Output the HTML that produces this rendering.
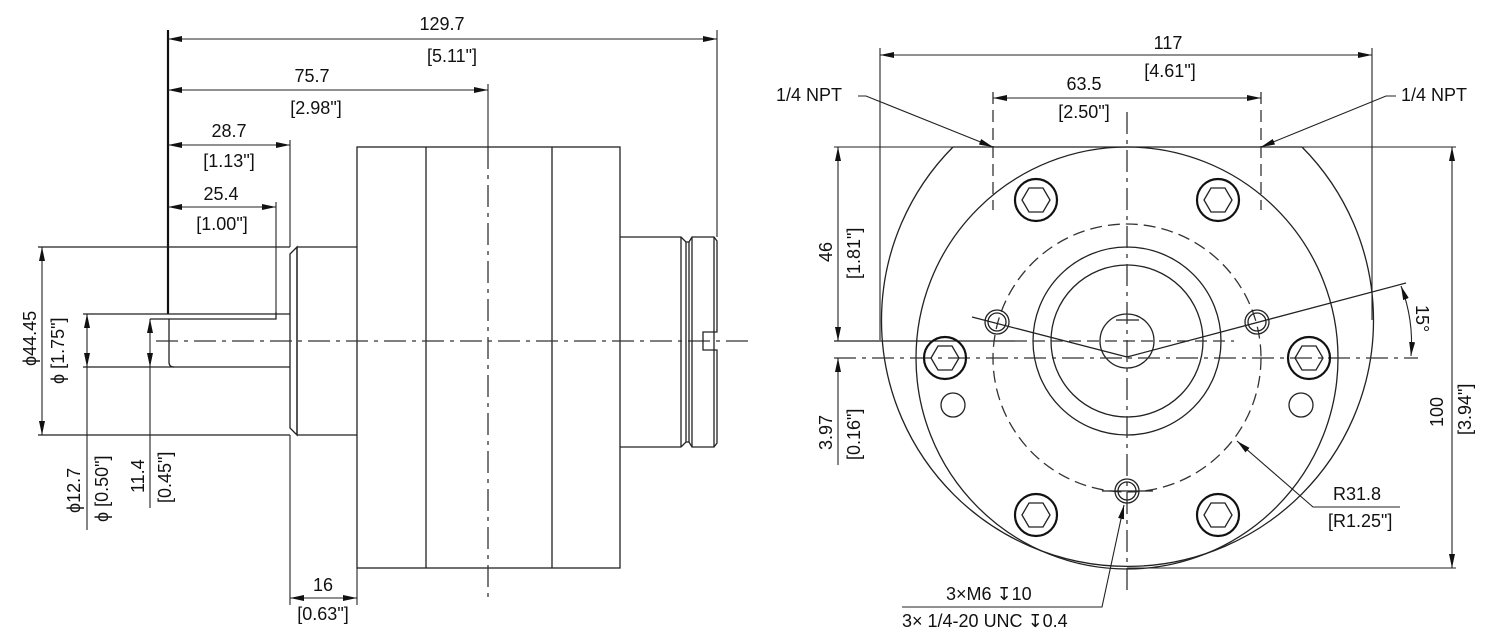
<!DOCTYPE html>
<html><head><meta charset="utf-8"><style>
html,body{margin:0;padding:0;background:#fff;}
svg{display:block;}
text{font-family:"Liberation Sans","DejaVu Sans",sans-serif;font-size:18px;fill:#111;}
.sym{font-family:"DejaVu Sans",sans-serif;}
.l{stroke:#222;stroke-width:1.3;fill:none;}
.t{stroke:#111;stroke-width:2.2;fill:none;}
.d{stroke:#333;stroke-width:1.3;fill:none;stroke-dasharray:22 6 4 6;}
.dd{stroke:#333;stroke-width:1.3;fill:none;stroke-dasharray:12 6;}
.dim{stroke:#222;stroke-width:1.1;fill:none;}
</style></head><body>
<svg width="1493" height="639" viewBox="0 0 1493 639" xmlns="http://www.w3.org/2000/svg">
<defs>
<marker id="a" viewBox="0 0 14 6" refX="14" refY="3" markerWidth="14" markerHeight="6" markerUnits="userSpaceOnUse" orient="auto-start-reverse"><path d="M0,0 L14,3 L0,6 z" fill="#111"/></marker>
</defs>

<!-- ===== LEFT VIEW ===== -->
<line class="t" x1="168" y1="30" x2="168" y2="314"/>
<line class="dim" x1="717" y1="30" x2="717" y2="237"/>
<line class="dim" x1="488" y1="84" x2="488" y2="147"/>
<line class="dim" x1="290" y1="140" x2="290" y2="247"/>
<line class="dim" x1="276" y1="202" x2="276" y2="312"/>
<line class="dim" x1="168" y1="39" x2="717" y2="39" marker-start="url(#a)" marker-end="url(#a)"/>
<text x="442" y="30" text-anchor="middle">129.7</text>
<text x="452" y="62" text-anchor="middle">[5.11"]</text>
<line class="dim" x1="168" y1="90" x2="488" y2="90" marker-start="url(#a)" marker-end="url(#a)"/>
<text x="312" y="82" text-anchor="middle">75.7</text>
<text x="316" y="114" text-anchor="middle">[2.98"]</text>
<line class="dim" x1="168" y1="145" x2="290" y2="145" marker-start="url(#a)" marker-end="url(#a)"/>
<text x="229" y="137" text-anchor="middle">28.7</text>
<text x="229" y="167" text-anchor="middle">[1.13"]</text>
<line class="dim" x1="168" y1="207" x2="276" y2="207" marker-start="url(#a)" marker-end="url(#a)"/>
<text x="221" y="200" text-anchor="middle">25.4</text>
<text x="222" y="230" text-anchor="middle">[1.00"]</text>

<rect class="l" x="357" y="147" width="263" height="421"/>
<line class="l" x1="426" y1="147" x2="426" y2="568"/>
<line class="l" x1="552" y1="147" x2="552" y2="568"/>
<line class="d" x1="488" y1="147" x2="488" y2="598"/>
<line class="l" x1="38" y1="247" x2="290" y2="247"/>
<line class="l" x1="38" y1="435" x2="290" y2="435"/>
<path class="l" d="M297,247 L357,247 M297,435 L357,435 M297,247 L290,254 L290,428 L297,435 Z"/>
<line class="l" x1="297" y1="247" x2="297" y2="435"/>
<line class="dim" x1="290" y1="435" x2="290" y2="605"/>
<line class="dim" x1="357" y1="568" x2="357" y2="605"/>
<line class="l" x1="83" y1="314" x2="290" y2="314"/>
<line class="l" x1="83" y1="367" x2="290" y2="367"/>
<path class="l" d="M150,319 L276,319 L276,312"/>
<path class="l" d="M169,319 L169,362 Q169,367 174,367"/>
<line class="d" x1="156" y1="341" x2="748" y2="341"/>
<path class="l" d="M620,237 L681,237 L686,242 L689,242 L692,237 L714,237 L717,241 L717,332 L703,332 L703,350 L717,350 L717,443 L714,447 L692,447 L689,442 L686,442 L681,447 L620,447"/>
<line class="l" x1="681" y1="237" x2="681" y2="447"/>
<line class="l" x1="686" y1="242" x2="686" y2="442"/>
<line class="l" x1="689" y1="242" x2="689" y2="442"/>
<line class="l" x1="692" y1="237" x2="692" y2="447"/>
<line class="l" x1="714" y1="237" x2="714" y2="447"/>
<line class="dim" x1="42" y1="247" x2="42" y2="435" marker-start="url(#a)" marker-end="url(#a)"/>
<text transform="translate(36,366) rotate(-90)">ϕ44.45</text>
<text transform="translate(64,384) rotate(-90)">ϕ [1.75"]</text>
<line class="dim" x1="87" y1="314" x2="87" y2="367" marker-start="url(#a)" marker-end="url(#a)"/>
<line class="dim" x1="87" y1="367" x2="87" y2="530"/>
<text transform="translate(80,513) rotate(-90)">ϕ12.7</text>
<text transform="translate(108,522) rotate(-90)">ϕ [0.50"]</text>
<line class="dim" x1="150" y1="319" x2="150" y2="367" marker-start="url(#a)" marker-end="url(#a)"/>
<line class="dim" x1="150" y1="367" x2="150" y2="508"/>
<text transform="translate(144,493) rotate(-90)">11.4</text>
<text transform="translate(171,503) rotate(-90)">[0.45"]</text>
<line class="dim" x1="290" y1="598" x2="357" y2="598" marker-start="url(#a)" marker-end="url(#a)"/>
<text x="323" y="591" text-anchor="middle">16</text>
<text x="323" y="620" text-anchor="middle">[0.63"]</text>

<!-- ===== RIGHT VIEW ===== -->
<line class="dim" x1="880" y1="48" x2="880" y2="340"/>
<line class="dim" x1="1372" y1="48" x2="1372" y2="320"/>
<line class="dim" x1="880" y1="55" x2="1372" y2="55" marker-start="url(#a)" marker-end="url(#a)"/>
<text x="1168" y="49" text-anchor="middle">117</text>
<text x="1170" y="77" text-anchor="middle">[4.61"]</text>
<line class="dd" x1="993" y1="92" x2="993" y2="210"/>
<line class="dd" x1="1261" y1="92" x2="1261" y2="210"/>
<line class="dim" x1="993" y1="98" x2="1261" y2="98" marker-start="url(#a)" marker-end="url(#a)"/>
<text x="1084" y="90" text-anchor="middle">63.5</text>
<text x="1084" y="118" text-anchor="middle">[2.50"]</text>
<text x="776" y="101">1/4 NPT</text>
<path class="dim" d="M858,96 L866,96 L993,147" marker-end="url(#a)"/>
<text x="1401" y="101">1/4 NPT</text>
<path class="dim" d="M1396,96 L1386,96 L1261,147" marker-end="url(#a)"/>
<line class="dim" x1="834" y1="147" x2="953" y2="147"/>
<line class="l" x1="953" y1="147" x2="1302" y2="147"/>
<line class="dim" x1="1302" y1="147" x2="1456" y2="147"/>
<path class="l" d="M953,147 A246,246 0 1,0 1302,147"/>
<circle class="l" cx="1127" cy="358" r="211"/>
<circle class="dd" cx="1127" cy="358" r="134" stroke-dasharray="14 6"/>
<circle class="l" cx="1127" cy="341" r="94"/>
<circle class="l" cx="1127" cy="341" r="76"/>
<circle class="l" cx="1127" cy="341" r="27"/>
<line class="l" x1="1116" y1="320" x2="1139" y2="320"/>
<line class="d" x1="1127" y1="112" x2="1127" y2="590"/>
<line class="d" x1="834" y1="358" x2="1418" y2="358"/>
<line class="l" x1="834" y1="341" x2="1015" y2="341"/>
<line class="dd" x1="1015" y1="341" x2="1234" y2="341"/>
<g>
<circle class="t" cx="1036" cy="200" r="21"/><polygon class="l" points="1050,200 1043,212 1029,212 1022,200 1029,188 1043,188"/>
<circle class="t" cx="1218" cy="200" r="21"/><polygon class="l" points="1232,200 1225,212 1211,212 1204,200 1211,188 1225,188"/>
<circle class="t" cx="945" cy="358" r="21"/><polygon class="l" points="959,358 952,370 938,370 931,358 938,346 952,346"/>
<circle class="t" cx="1309" cy="358" r="21"/><polygon class="l" points="1323,358 1316,370 1302,370 1295,358 1302,346 1316,346"/>
<circle class="t" cx="1036" cy="515" r="21"/><polygon class="l" points="1050,515 1043,527 1029,527 1022,515 1029,503 1043,503"/>
<circle class="t" cx="1218" cy="515" r="21"/><polygon class="l" points="1232,515 1225,527 1211,527 1204,515 1211,503 1225,503"/>
</g>
<circle class="l" cx="953" cy="405" r="12"/>
<circle class="l" cx="1301" cy="405" r="12"/>
<circle class="l" cx="997" cy="322" r="12"/><circle class="l" cx="997" cy="322" r="9"/>
<circle class="l" cx="1257" cy="322" r="12"/><circle class="l" cx="1257" cy="322" r="9"/>
<circle class="l" cx="1127" cy="491" r="12"/><circle class="l" cx="1127" cy="491" r="9"/>
<line class="l" x1="1102" y1="491" x2="1153" y2="491"/>
<line class="l" x1="972" y1="317" x2="1127" y2="357"/>
<line class="l" x1="1127" y1="357" x2="1406" y2="283"/>
<path class="dim" d="M1401,286 Q1414,320 1411,356" marker-start="url(#a)" marker-end="url(#a)"/>
<text transform="translate(1416,305) rotate(90)">15°</text>
<line class="dim" x1="838" y1="147" x2="838" y2="341" marker-start="url(#a)" marker-end="url(#a)"/>
<text transform="translate(832,262) rotate(-90)">46</text>
<text transform="translate(860,279) rotate(-90)">[1.81"]</text>
<line class="dim" x1="838" y1="358" x2="838" y2="465" marker-start="url(#a)"/>
<text transform="translate(832,450) rotate(-90)">3.97</text>
<text transform="translate(860,460) rotate(-90)">[0.16"]</text>
<line class="dim" x1="1452" y1="147" x2="1452" y2="568" marker-start="url(#a)" marker-end="url(#a)"/>
<line class="dim" x1="1127" y1="568" x2="1456" y2="568"/>
<text transform="translate(1443,427) rotate(-90)">100</text>
<text transform="translate(1471,435) rotate(-90)">[3.94"]</text>
<path class="dim" d="M1400,507 L1313,507 L1237,441" marker-end="url(#a)"/>
<text x="1333" y="500">R31.8</text>
<text x="1328" y="527">[R1.25"]</text>
<path class="dim" d="M902,607 L1102,607 L1124,505" marker-end="url(#a)"/>
<text x="946" y="600">3×M6 <tspan class="sym">↧</tspan>10</text>
<text x="902" y="627">3× 1/4-20 UNC <tspan class="sym">↧</tspan>0.4</text>
</svg>
</body></html>
